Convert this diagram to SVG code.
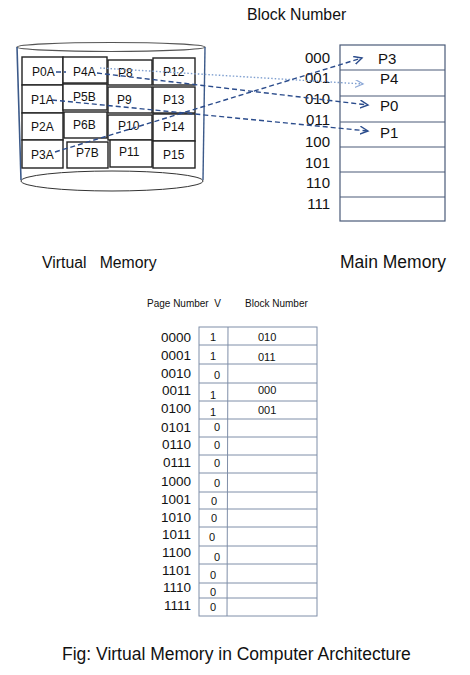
<svg xmlns="http://www.w3.org/2000/svg" width="470" height="675" viewBox="0 0 470 675">
<style>
text{font-family:"Liberation Sans",Arial,sans-serif;fill:#111}
.cell rect{fill:#fff;stroke:#222;stroke-width:1.4}
.cell text{font-size:12px}
.mm{fill:none;stroke:#4a5a78;stroke-width:1.2}
.lbl{font-size:15px}
.pt{font-size:13.5px}
.pth{font-size:10px}
.grid{fill:none;stroke:#7f8ea8;stroke-width:1}
.dash{fill:none;stroke:#2b4c8c;stroke-width:1.4;stroke-dasharray:5 3}
.dot{fill:none;stroke:#7f9fcf;stroke-width:1.4;stroke-dasharray:1.5 2}
</style>
<defs>
<marker id="ah" markerWidth="10" markerHeight="10" refX="8" refY="4" orient="auto" markerUnits="userSpaceOnUse">
<path d="M0,0 L8,4 L0,8" fill="none" stroke="#2b4c8c" stroke-width="1.4"/>
</marker>
<marker id="ahl" markerWidth="10" markerHeight="10" refX="8" refY="4" orient="auto" markerUnits="userSpaceOnUse">
<path d="M0,0 L8,4 L0,8" fill="none" stroke="#8faad8" stroke-width="1.3"/>
</marker>
</defs>
<rect width="470" height="675" fill="#fff"/>

<g id="disk">
<ellipse cx="111" cy="47" rx="94" ry="4.5" fill="none" stroke="#555" stroke-width="1.2"/>
<ellipse cx="112" cy="181" rx="91" ry="10" fill="none" stroke="#333" stroke-width="1"/>
<line x1="17" y1="47" x2="21" y2="180" stroke="#3c5a8a" stroke-width="1.6"/>
<line x1="205" y1="47" x2="203" y2="180" stroke="#3c5a8a" stroke-width="1.4"/>
</g>

<g id="virtual-pages" class="cell">
<rect x="22" y="57" width="41" height="28"/><text x="32" y="76">P0A</text>
<rect x="22" y="85" width="41" height="28"/><text x="31" y="104">P1A</text>
<rect x="22" y="113" width="41" height="27"/><text x="31" y="131">P2A</text>
<rect x="22" y="140" width="41" height="28"/><text x="31" y="159">P3A</text>
<rect x="63" y="57" width="44" height="26"/><text x="73" y="76">P4A</text>
<rect x="63" y="84" width="44" height="26"/><text x="73" y="101">P5B</text>
<rect x="64" y="112" width="43" height="26"/><text x="73" y="129">P6B</text>
<rect x="67" y="142" width="41" height="26"/><text x="76" y="157">P7B</text>
<rect x="108" y="60" width="44" height="25"/><text x="118" y="77">P8</text>
<rect x="108" y="87" width="44" height="26"/><text x="117" y="104">P9</text>
<rect x="108" y="115" width="44" height="25"/><text x="118" y="130">P10</text>
<rect x="110" y="140" width="42" height="27"/><text x="119" y="156">P11</text>
<rect x="153" y="58" width="42" height="27"/><text x="163" y="76">P12</text>
<rect x="153" y="87" width="42" height="26"/><text x="163" y="104">P13</text>
<rect x="153" y="114" width="42" height="27"/><text x="163" y="131">P14</text>
<rect x="153" y="141" width="42" height="27"/><text x="163" y="159">P15</text>
</g>

<g id="main-memory">
<text x="247" y="20" font-size="15.8">Block Number</text>
<rect x="340" y="45" width="105" height="176" class="mm"/>
<line x1="340" y1="70" x2="445" y2="70" class="mm"/>
<line x1="340" y1="96" x2="445" y2="96" class="mm" stroke="#1f3050"/>
<line x1="340" y1="122" x2="445" y2="122" class="mm"/>
<line x1="340" y1="147" x2="445" y2="147" class="mm"/>
<line x1="340" y1="172" x2="445" y2="172" class="mm"/>
<line x1="340" y1="197" x2="445" y2="197" class="mm"/>
<text x="378" y="64" class="lbl">P3</text>
<text x="380" y="84" class="lbl">P4</text>
<text x="380" y="111" class="lbl">P0</text>
<text x="380" y="138" class="lbl">P1</text>
<g class="lbl" text-anchor="end">
<text x="330" y="63">000</text>
<text x="330" y="83">001</text>
<text x="330" y="104">010</text>
<text x="330" y="125">011</text>
<text x="330" y="147">100</text>
<text x="330" y="168">101</text>
<text x="330" y="188">110</text>
<text x="330" y="209">111</text>
</g>
</g>

<g id="connectors">
<path class="dot" d="M100,68 L363,84" marker-end="url(#ahl)"/>
<path class="dash" d="M56,72 L66,72"/>
<path class="dash" d="M97,73 L368,105" marker-end="url(#ah)"/>
<path class="dash" d="M52,100 L368,131" marker-end="url(#ah)"/>
<path class="dash" d="M55,152 L362,58" marker-end="url(#ah)"/>
</g>

<g id="labels">
<text x="42" y="268" font-size="15.8" xml:space="preserve">Virtual   Memory</text>
<text x="340" y="268" font-size="17.5">Main Memory</text>
</g>

<g id="page-table">
<text x="147" y="307" class="pth" xml:space="preserve">Page Number  V</text>
<text x="245" y="307" class="pth">Block Number</text>
<rect x="199" y="327" width="118" height="289" class="grid"/>
<line x1="228" y1="327" x2="227" y2="616" class="grid"/>
<g class="grid">
<line x1="199" y1="345" x2="317" y2="345"/>
<line x1="199" y1="364" x2="317" y2="364"/>
<line x1="199" y1="383" x2="317" y2="383"/>
<line x1="199" y1="401" x2="317" y2="401"/>
<line x1="199" y1="419" x2="317" y2="419"/>
<line x1="199" y1="437" x2="317" y2="437"/>
<line x1="199" y1="455" x2="317" y2="455"/>
<line x1="199" y1="473" x2="317" y2="473"/>
<line x1="199" y1="492" x2="317" y2="492"/>
<line x1="199" y1="509" x2="317" y2="509"/>
<line x1="199" y1="527" x2="317" y2="527"/>
<line x1="199" y1="546" x2="317" y2="546"/>
<line x1="199" y1="564" x2="317" y2="564"/>
<line x1="199" y1="583" x2="317" y2="583"/>
<line x1="199" y1="598" x2="317" y2="598"/>
</g>
<g class="pt" text-anchor="end">
<text x="191" y="342">0000</text>
<text x="191" y="360">0001</text>
<text x="191" y="378">0010</text>
<text x="191" y="395">0011</text>
<text x="191" y="413">0100</text>
<text x="191" y="432">0101</text>
<text x="191" y="449">0110</text>
<text x="191" y="467">0111</text>
<text x="191" y="486">1000</text>
<text x="191" y="504">1001</text>
<text x="191" y="522">1010</text>
<text x="191" y="539">1011</text>
<text x="191" y="557">1100</text>
<text x="191" y="575">1101</text>
<text x="191" y="592">1110</text>
<text x="191" y="610">1111</text>
</g>
<g font-size="11">
<text x="210" y="341">1</text>
<text x="210" y="360">1</text>
<text x="214" y="379">0</text>
<text x="210" y="399">1</text>
<text x="210" y="416">1</text>
<text x="214" y="431">0</text>
<text x="214" y="449">0</text>
<text x="214" y="467">0</text>
<text x="214" y="487">0</text>
<text x="211" y="505">0</text>
<text x="211" y="522">0</text>
<text x="209" y="541">0</text>
<text x="214" y="561">0</text>
<text x="210" y="579">0</text>
<text x="210" y="596">0</text>
<text x="210" y="611">0</text>
</g>
<g font-size="11">
<text x="258" y="341">010</text>
<text x="258" y="361">011</text>
<text x="258" y="394">000</text>
<text x="258" y="414">001</text>
</g>
</g>

<text x="62" y="660" font-size="17.5">Fig: Virtual Memory in Computer Architecture</text>
</svg>
